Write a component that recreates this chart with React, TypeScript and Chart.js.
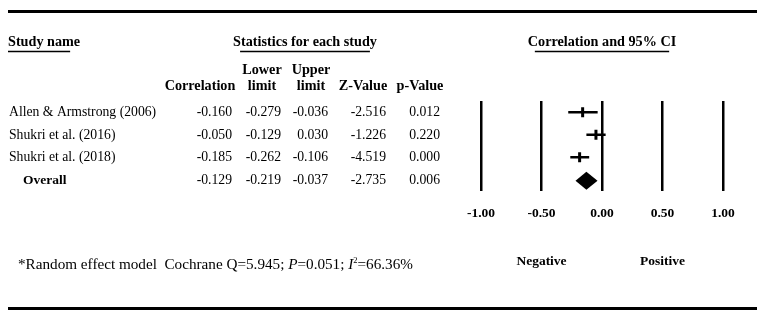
import React, { useEffect, useRef } from "react";
import { Chart, registerables } from "chart.js";

Chart.register(...registerables);

// Study-level results (correlation with 95% CI)
const studyNames = ["Allen & Armstrong (2006)", "Shukri et al. (2016)", "Shukri et al. (2018)"];
const correlation = [-0.16, -0.05, -0.185];
const lowerLimit = [-0.279, -0.129, -0.262];
const upperLimit = [-0.036, 0.03, -0.106];
const zValue = [-2.516, -1.226, -4.519];
const pValue = [0.012, 0.22, 0.0];

// Pooled (random effect) result
const overallLabel = "Overall";
const overallCorrelation = -0.129;
const overallLower = -0.219;
const overallUpper = -0.037;
const overallZ = -2.735;
const overallP = 0.006;

const axisTicks = [-1, -0.5, 0, 0.5, 1];
const sideLabels = ["Negative", "Positive"];
const sideValues = [-0.5, 0.5];

const SERIF = "'Liberation Serif', 'Times New Roman', serif";
const FS = 13.7; // body text
const FH = 14.2; // bold headers
const FT = 13.5; // axis labels
const FN = 15.2; // footnote

const fmt = (v: number) => v.toFixed(3);

const tablePlugin = {
  id: "forestTable",
  afterDraw(chart: any) {
    const ctx: CanvasRenderingContext2D = chart.ctx;
    const y = chart.scales.y;
    const x = chart.scales.x;
    ctx.save();
    ctx.fillStyle = "#000";
    ctx.strokeStyle = "#000";
    ctx.textBaseline = "middle";

    // thick rules at top and bottom
    ctx.lineWidth = 3;
    ctx.beginPath();
    ctx.moveTo(8, 11.5);
    ctx.lineTo(757, 11.5);
    ctx.moveTo(8, 308.5);
    ctx.lineTo(757, 308.5);
    ctx.stroke();

    const underlined = (
      text: string,
      px: number,
      py: number,
      align: CanvasTextAlign,
      insetL: number,
      insetR: number
    ) => {
      ctx.font = `bold ${FH}px ${SERIF}`;
      ctx.textAlign = align;
      ctx.fillText(text, px, py);
      const w = ctx.measureText(text).width;
      const x0 = align === "center" ? px - w / 2 : px;
      ctx.lineWidth = 1.3;
      ctx.beginPath();
      ctx.moveTo(x0 + insetL, py + 9);
      ctx.lineTo(x0 + w - insetR, py + 9);
      ctx.stroke();
    };

    underlined("Study name", 8, 42.5, "left", 0, 10);
    underlined("Statistics for each study", 305, 42.5, "center", 7, 7);
    underlined("Correlation and 95% CI", x.getPixelForValue(0), 42.5, "center", 7, 7);

    // column headers
    ctx.font = `bold ${FH}px ${SERIF}`;
    ctx.textAlign = "center";
    ctx.fillText("Lower", 262, 70.5);
    ctx.fillText("Upper", 311, 70.5);
    ctx.fillText("Correlation", 200, 86.5);
    ctx.fillText("limit", 262, 86.5);
    ctx.fillText("limit", 311, 86.5);
    ctx.fillText("Z-Value", 363, 86.5);
    ctx.fillText("p-Value", 420, 86.5);

    const colRight = [232, 281, 328, 386, 440];
    const drawRow = (name: string, vals: number[], i: number, bold: boolean) => {
      const py = y.getPixelForValue(i) + 0.5;
      ctx.font = `${bold ? "bold " : ""}${bold ? FS - 0.2 : FS}px ${SERIF}`;
      ctx.textAlign = "left";
      ctx.fillText(name, bold ? 23 : 9, py);
      ctx.font = `${FS}px ${SERIF}`;
      ctx.textAlign = "right";
      vals.forEach((v, k) => ctx.fillText(fmt(v), colRight[k], py));
    };
    studyNames.forEach((n, i) =>
      drawRow(n, [correlation[i], lowerLimit[i], upperLimit[i], zValue[i], pValue[i]], i, false)
    );
    drawRow(
      overallLabel,
      [overallCorrelation, overallLower, overallUpper, overallZ, overallP],
      studyNames.length,
      true
    );

    // direction labels under the axis
    ctx.font = `bold ${FT}px ${SERIF}`;
    ctx.textAlign = "center";
    sideLabels.forEach((t, k) => ctx.fillText(t, x.getPixelForValue(sideValues[k]), 261.5));

    // footnote with italic symbols
    let fx = 18;
    const fy = 265.5;
    ctx.textAlign = "left";
    const piece = (t: string, font: string, dy = 0) => {
      ctx.font = font;
      ctx.fillText(t, fx, fy + dy);
      fx += ctx.measureText(t).width;
    };
    const reg = `${FN}px ${SERIF}`;
    const ital = `italic ${FN}px ${SERIF}`;
    piece("*Random effect model  Cochrane Q=5.945; ", reg);
    piece("P", ital);
    piece("=0.051; ", reg);
    piece("I", ital);
    piece("2", `8.5px ${SERIF}`, -4.5);
    piece("=66.36%", reg);

    ctx.restore();
  },
  afterDatasetsDraw(chart: any) {
    // pooled estimate diamond
    const ctx: CanvasRenderingContext2D = chart.ctx;
    const x = chart.scales.x;
    const y = chart.scales.y;
    const cy = y.getPixelForValue(studyNames.length) + 1;
    const half = 9;
    ctx.save();
    ctx.fillStyle = "#000";
    ctx.beginPath();
    ctx.moveTo(x.getPixelForValue(overallLower), cy);
    ctx.lineTo(x.getPixelForValue(overallCorrelation), cy - half);
    ctx.lineTo(x.getPixelForValue(overallUpper), cy);
    ctx.lineTo(x.getPixelForValue(overallCorrelation), cy + half);
    ctx.closePath();
    ctx.fill();
    ctx.restore();
  },
};

export default function App() {
  const ref = useRef<HTMLCanvasElement | null>(null);

  useEffect(() => {
    if (!ref.current) return;
    const ciSets = studyNames.map((n, i) => ({
      type: "line" as const,
      label: n,
      data: [
        { x: lowerLimit[i], y: i },
        { x: upperLimit[i], y: i },
      ],
      borderColor: "#000",
      borderWidth: 2.5,
      pointRadius: 0,
      showLine: true,
    }));
    const chart = new Chart(ref.current, {
      type: "scatter",
      data: {
        datasets: [
          ...ciSets,
          {
            type: "scatter" as const,
            label: "Correlation",
            data: correlation.map((c, i) => ({ x: c, y: i })),
            pointStyle: "line",
            rotation: 90,
            radius: 5,
            borderWidth: 3,
            borderColor: "#000",
            backgroundColor: "#000",
          },
        ] as any,
      },
      options: {
        responsive: false,
        animation: false,
        devicePixelRatio: 1,
        layout: { padding: { left: 481, right: 40, top: 101, bottom: 96 } },
        plugins: { legend: { display: false }, tooltip: { enabled: false } },
        scales: {
          x: {
            type: "linear",
            min: -1,
            max: 1,
            afterBuildTicks: (s: any) => {
              s.ticks = axisTicks.map((v) => ({ value: v }));
            },
            afterFit: (s: any) => {
              s.height = 30;
            },
            ticks: {
              color: "#000",
              padding: 14,
              font: { family: SERIF, size: FT, weight: "bold" },
              callback: (v: any) => Number(v).toFixed(2),
              maxRotation: 0,
            },
            grid: { color: "#000", lineWidth: 2.5, drawTicks: false },
            border: { display: false },
          },
          y: {
            type: "linear",
            min: -0.5,
            max: studyNames.length + 0.5,
            reverse: true,
            display: false,
          },
        },
      },
      plugins: [tablePlugin],
    });
    return () => chart.destroy();
  }, []);

  return (
    <div style={{ position: "absolute", left: 0, top: 0, width: 763, height: 317, background: "#fff" }}>
      <canvas ref={ref} width={763} height={317} style={{ width: 763, height: 317 }} />
    </div>
  );
}
